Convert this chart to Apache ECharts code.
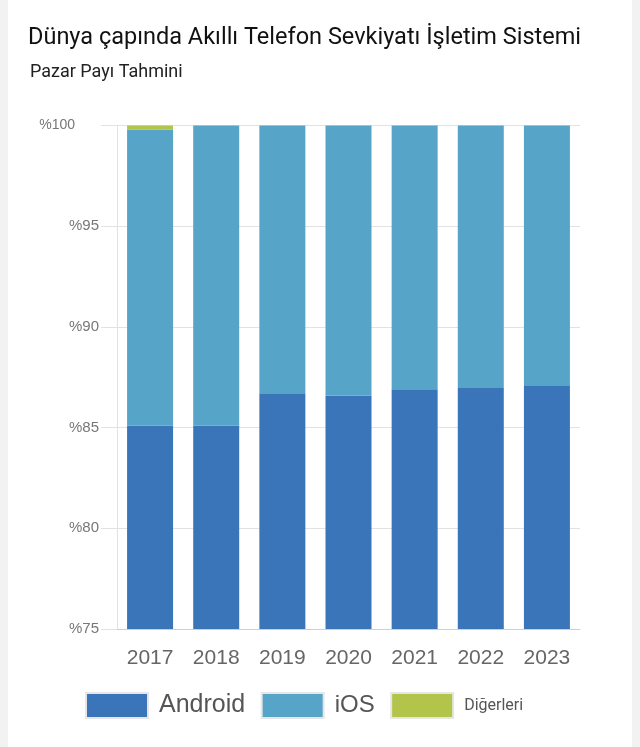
<!DOCTYPE html>
<html>
<head>
<meta charset="utf-8">
<script src="https://cdn.jsdelivr.net/npm/echarts@6/dist/echarts.min.js"></script>
<style>
  html, body { margin: 0; padding: 0; background: #f2f2f2; }
  #chart { margin: 0 8px; width: 624px; height: 747px; background: #fff; }
</style>
</head>
<body>
<div id="chart"></div>
<script>
// yıllar
const years = ['2017', '2018', '2019', '2020', '2021', '2022', '2023']
// pazar payları (%)
const android = [85.1, 85.1, 86.7, 86.6, 86.9, 87.0, 87.1]
const ios = [14.7, 14.9, 13.3, 13.4, 13.1, 13.0, 12.9]
const others = [0.2, 0, 0, 0, 0, 0, 0]

const seriesNames = ['Android', 'iOS', 'Diğerleri']
const colors = ['#3a75b9', '#56a5c9', '#b3c44b']

const myEchart = echarts.init(document.querySelector('#chart'))
myEchart.setOption({
  animation: false,
  color: colors,
  title: [
    {
      text: 'Dünya çapında Akıllı Telefon Sevkiyatı İşletim Sistemi',
      left: 20,
      top: 26,
      padding: 0,
      textStyle: {
        fontFamily: 'Roboto',
        fontSize: 23.5,
        fontWeight: 'normal',
        color: '#111',
      },
    },
    {
      text: 'Pazar Payı Tahmini',
      left: 22,
      top: 63,
      padding: 0,
      textStyle: {
        fontFamily: 'Roboto',
        fontSize: 18,
        fontWeight: 'normal',
        color: '#222',
      },
    },
  ],
  grid: {
    left: 109,
    right: 52,
    top: 125.5,
    bottom: 118,
  },
  legend: {
    left: 77,
    top: 692,
    padding: 0,
    itemWidth: 62,
    itemHeight: 25,
    itemGap: 15.5,
    icon: 'rect',
    itemStyle: {
      borderColor: '#e6e6e6',
      borderWidth: 2,
    },
    data: [
      { name: 'Android', textStyle: { fontSize: 25 } },
      { name: 'iOS', textStyle: { fontSize: 24 } },
      { name: 'Diğerleri', textStyle: { fontSize: 16, fontFamily: 'Roboto' } },
    ],
    textStyle: {
      fontFamily: 'Liberation Sans',
      color: '#555',
      padding: [0, 0, 0, 6],
    },
  },
  xAxis: {
    type: 'category',
    data: years,
    axisLine: {
      lineStyle: { color: '#cfcfcf' },
    },
    axisTick: { show: false },
    axisLabel: {
      margin: 19,
      fontSize: 21,
      fontFamily: 'Liberation Sans',
      color: '#666',
    },
  },
  yAxis: {
    type: 'value',
    min: 75,
    max: 100,
    interval: 5,
    axisLine: {
      show: true,
      lineStyle: { color: '#e2e2e2' },
    },
    axisTick: {
      show: true,
      length: 16,
      lineStyle: { color: '#e2e2e2' },
    },
    splitLine: {
      lineStyle: { color: '#e2e2e2' },
    },
    axisLabel: {
      margin: 18,
      fontSize: 15,
      fontFamily: 'Liberation Sans',
      color: '#777',
      formatter: (v) => (v === 100 ? '{top|%100}' : '%' + v),
      rich: {
        top: {
          fontSize: 14,
          fontFamily: 'Liberation Sans',
          color: '#777',
          padding: [0, 24, 0, 0],
        },
      },
    },
  },
  series: [
    { name: seriesNames[0], type: 'bar', stack: 'pay', barWidth: 46, data: android },
    { name: seriesNames[1], type: 'bar', stack: 'pay', barWidth: 46, data: ios },
    { name: seriesNames[2], type: 'bar', stack: 'pay', barWidth: 46, data: others },
  ],
})
</script>
</body>
</html>
